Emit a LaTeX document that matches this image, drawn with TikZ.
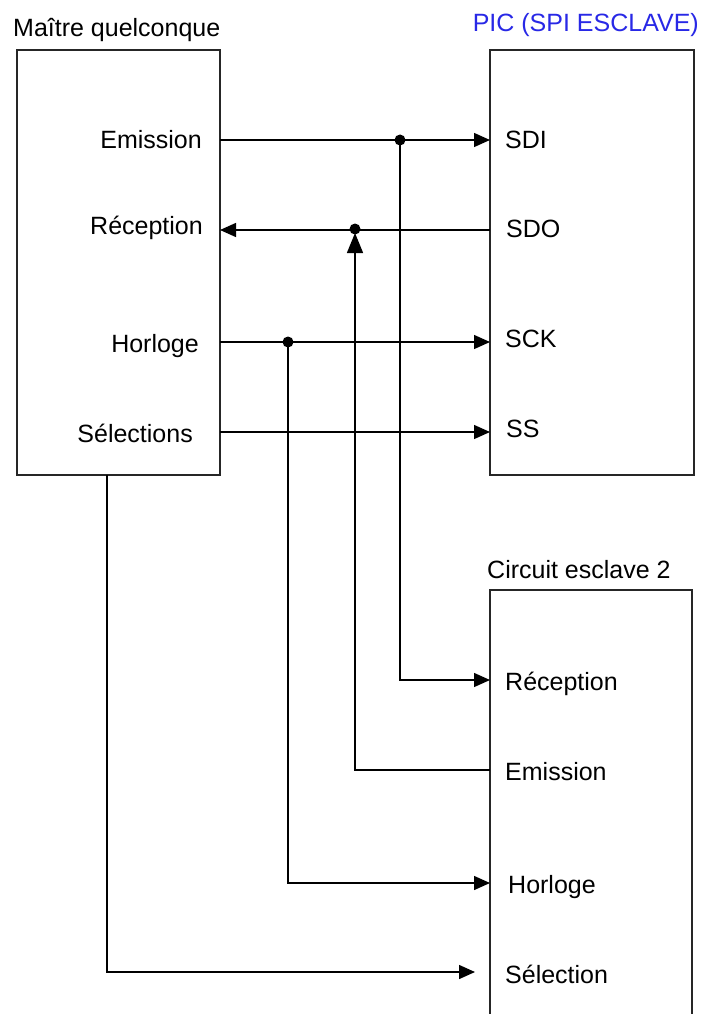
\documentclass[tikz,border=0pt]{standalone}
\usepackage{fontspec}
\setmainfont{Liberation Sans}
\usetikzlibrary{arrows.meta}
\definecolor{picblue}{RGB}{40,40,230}
\begin{document}
\begin{tikzpicture}[x=1pt,y=-1pt,
  font=\fontsize{25}{30}\selectfont,
  box/.style={draw=black!85, line width=2.4pt, inner sep=0pt, outer sep=0pt, anchor=north west},
  wire/.style={line width=1.4pt},
  arr/.style={wire,-{Triangle[length=16pt,width=14pt]}},
  bigarr/.style={wire,-{Triangle[length=20pt,width=16pt]}},
  dot/.style={circle,fill,inner sep=0pt,minimum size=11pt},
  lbl/.style={inner sep=0pt}]
\clip (0,0) rectangle (701,1014);
% boxes
\node[box, minimum width=203pt, minimum height=425pt] (M) at (17,50) {};
\node[box, minimum width=204pt, minimum height=425pt] (P) at (490,50) {};
\node[box, minimum width=202pt, minimum height=460pt] (C) at (490,590) {};
% titles
\node[lbl, anchor=base west] (tM) at (13,37) {Maître quelconque};
\node[lbl, anchor=base east, text=picblue] (tP) at (699,32) {PIC (SPI ESCLAVE)};
\node[lbl, anchor=base west] (tC) at (487,578) {Circuit esclave 2};
% master labels
\node[lbl, anchor=base east] (mEm) at (202,149) {Emission};
\node[lbl, anchor=base east] (mRe) at (203,234) {Réception};
\node[lbl, anchor=base east] (mHo) at (199,352) {Horloge};
\node[lbl, anchor=base east] (mSe) at (193,442) {Sélections};
% PIC labels
\node[lbl, anchor=base west] (pSDI) at (505,149) {SDI};
\node[lbl, anchor=base west] (pSDO) at (506,237) {SDO};
\node[lbl, anchor=base west] (pSCK) at (505,347) {SCK};
\node[lbl, anchor=base west] (pSS) at (506,437) {SS};
% slave 2 labels
\node[lbl, anchor=base west] (cRe) at (505,690) {Réception};
\node[lbl, anchor=base west] (cEm) at (505,780) {Emission};
\node[lbl, anchor=base west] (cHo) at (508,893) {Horloge};
\node[lbl, anchor=base west] (cSe) at (505,983) {Sélection};
% ports and junctions
\coordinate (oEm) at (M.east |- 0,140);
\coordinate (iRe) at (M.east |- 0,230);
\coordinate (oHo) at (M.east |- 0,342);
\coordinate (oSe) at (M.east |- 0,432);
\coordinate (oBot) at (107,475);
\coordinate (iSDI) at (P.west |- 0,140);
\coordinate (oSDO) at (P.west |- 0,230);
\coordinate (iSCK) at (P.west |- 0,342);
\coordinate (iSS) at (P.west |- 0,432);
\coordinate (iCRe) at (C.west |- 0,680);
\coordinate (oCEm) at (C.west |- 0,770);
\coordinate (iCHo) at (C.west |- 0,883);
\coordinate (iCSe) at (475,972);
\node[dot] (j1) at (400,140) {};
\node[dot] (j2) at (355,229) {};
\node[dot] (j3) at (288,342) {};
\coordinate (up) at (355,233);
% connectors
\draw[arr] (oEm) -- (iSDI);
\draw[arr] (oSDO) -- (iRe);
\draw[arr] (oHo) -- (iSCK);
\draw[arr] (oSe) -- (iSS);
\draw[arr] (j1.center) |- (iCRe);
\draw[bigarr] (oCEm) -| (up);
\draw[arr] (j3.center) |- (iCHo);
\draw[arr] (oBot) |- (iCSe);
\end{tikzpicture}
\end{document}
